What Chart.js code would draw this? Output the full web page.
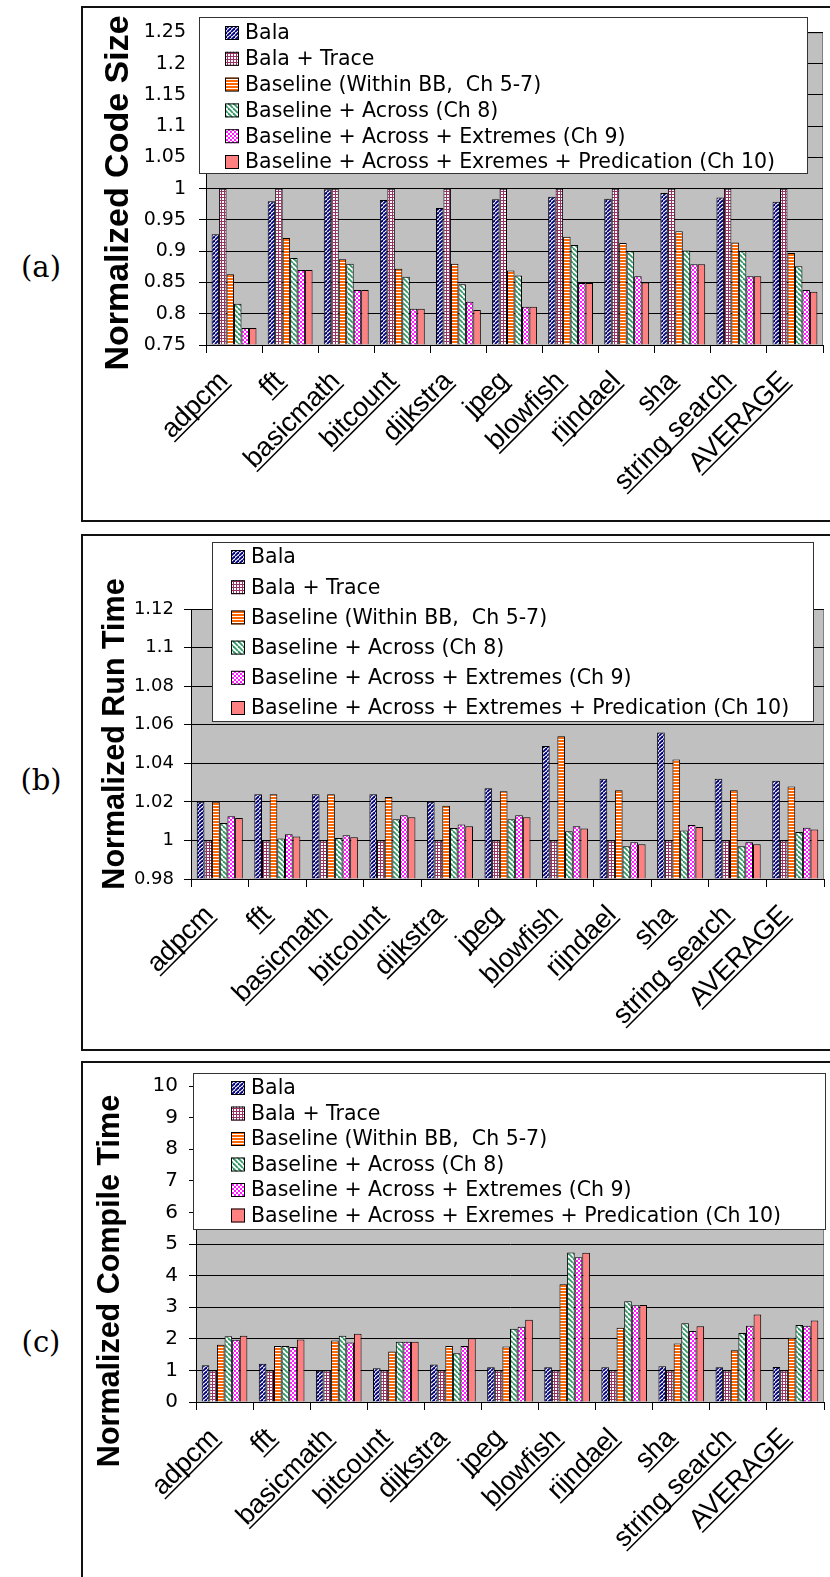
<!DOCTYPE html>
<html>
<head>
<meta charset="utf-8">
<script src="https://cdn.jsdelivr.net/npm/chart.js@4.4.1/dist/chart.umd.min.js"></script>
<style>
  html, body { margin: 0; padding: 0; background: #fff; }
  body { width: 830px; height: 1577px; position: relative; overflow: hidden; }
  .frame { position: absolute; left: 81px; width: 800px; border: 2px solid #111; box-sizing: border-box; }
  .tag { position: absolute; left: 14px; width: 54px; text-align: center; font: 29px "DejaVu Serif", serif; line-height: 34px; }
  canvas { position: absolute; left: 83px; }
</style>
</head>
<body>
<div class="frame" style="top:6px;height:516px"></div>
<div class="frame" style="top:534px;height:517px"></div>
<div class="frame" style="top:1061px;height:600px"></div>
<div class="tag" style="top:250px">(a)</div>
<div class="tag" style="top:763px">(b)</div>
<div class="tag" style="top:1325px">(c)</div>
<canvas id="chartA" width="747" height="512" style="top:8px"></canvas>
<canvas id="chartB" width="747" height="513" style="top:536px"></canvas>
<canvas id="chartC" width="747" height="514" style="top:1063px"></canvas>
<script>
/* ---------------- Data ---------------- */
const categories = ["adpcm", "fft", "basicmath", "bitcount", "dijkstra", "jpeg",
    "blowfish", "rijndael", "sha", "string search", "AVERAGE"];

const namesCode = ["Bala", "Bala + Trace", "Baseline (Within BB,  Ch 5-7)",
    "Baseline + Across (Ch 8)", "Baseline + Across + Extremes (Ch 9)",
    "Baseline + Across + Exremes + Predication (Ch 10)"];
const namesRun = ["Bala", "Bala + Trace", "Baseline (Within BB,  Ch 5-7)",
    "Baseline + Across (Ch 8)", "Baseline + Across + Extremes (Ch 9)",
    "Baseline + Across + Extremes + Predication (Ch 10)"];
const namesCompile = namesCode;

// (a) normalized code size
const codeBala      = [0.927, 0.980, 0.999, 0.982, 0.969, 0.983, 0.987, 0.984, 0.993, 0.986, 0.979];
const codeTrace     = [1, 1, 1, 1, 1, 1, 1, 1, 1, 1, 1];
const codeBaseline  = [0.863, 0.921, 0.887, 0.872, 0.880, 0.869, 0.923, 0.913, 0.932, 0.914, 0.897];
const codeAcross    = [0.816, 0.889, 0.880, 0.859, 0.847, 0.861, 0.910, 0.900, 0.901, 0.900, 0.876];
const codeExtremes  = [0.777, 0.870, 0.838, 0.808, 0.819, 0.811, 0.849, 0.860, 0.879, 0.860, 0.838];
const codePred      = [0.777, 0.870, 0.838, 0.808, 0.806, 0.811, 0.849, 0.850, 0.879, 0.860, 0.835];
const codeTicks = ["0.75", "0.8", "0.85", "0.9", "0.95", "1", "1.05", "1.1", "1.15", "1.2", "1.25"];

// (b) normalized run time
const runBala      = [1.020, 1.024, 1.024, 1.024, 1.020, 1.027, 1.049, 1.032, 1.056, 1.032, 1.031];
const runTrace     = [1, 1, 1, 1, 1, 1, 1, 1, 1, 1, 1];
const runBaseline  = [1.020, 1.024, 1.024, 1.0225, 1.018, 1.0255, 1.054, 1.026, 1.042, 1.026, 1.028];
const runAcross    = [1.009, 1.001, 1.0012, 1.011, 1.0065, 1.011, 1.0048, 0.997, 1.0052, 0.997, 1.0044];
const runExtremes  = [1.0125, 1.0032, 1.0027, 1.013, 1.0083, 1.013, 1.0073, 0.999, 1.008, 0.999, 1.0066];
const runPred      = [1.0116, 1.0021, 1.0017, 1.012, 1.0074, 1.012, 1.0062, 0.998, 1.007, 0.998, 1.0057];
const runTicks = ["0.98", "1", "1.02", "1.04", "1.06", "1.08", "1.1", "1.12"];

// (c) normalized compile time
const compBala      = [1.16, 1.21, 0.99, 1.07, 1.19, 1.10, 1.10, 1.10, 1.13, 1.10, 1.11];
const compTrace     = [1, 1, 1, 1, 1, 1, 1, 1, 1, 1, 1];
const compBaseline  = [1.81, 1.77, 1.95, 1.60, 1.77, 1.76, 3.73, 2.35, 1.85, 1.64, 2.03];
const compAcross    = [2.08, 1.77, 2.10, 1.91, 1.54, 2.32, 4.73, 3.19, 2.49, 2.18, 2.44];
const compExtremes  = [1.97, 1.74, 1.88, 1.91, 1.77, 2.38, 4.58, 3.06, 2.25, 2.41, 2.41];
const compPred      = [2.10, 1.98, 2.16, 1.91, 2.02, 2.60, 4.72, 3.07, 2.40, 2.77, 2.58];
const compTicks = ["0", "1", "2", "3", "4", "5", "6", "7", "8", "9", "10"];

/* ---------------- Fill patterns (Excel style) ---------------- */
function tile(w, h, paint) {
    const c = document.createElement("canvas");
    c.width = w; c.height = h;
    const g = c.getContext("2d");
    g.fillStyle = "#fff";
    g.fillRect(0, 0, w, h);
    paint(g, w, h);
    return g.createPattern(c, "repeat");
}

function diag(g, s, color, lw, dir) {
    g.strokeStyle = color;
    g.lineWidth = lw;
    for (let k = -1; k <= 1; k++) {
        g.beginPath();
        if (dir > 0) { g.moveTo(k * s, s); g.lineTo(k * s + s, 0); }
        else { g.moveTo(k * s, 0); g.lineTo(k * s + s, s); }
        g.stroke();
    }
}

const fills = [
    tile(4, 4, g => diag(g, 4, "#000080", 1.9, 1)),
    tile(3, 3, g => { g.fillStyle = "#993366"; g.fillRect(0, 0, 3, 1); g.fillRect(0, 0, 1, 3); }),
    tile(3, 3, g => { g.fillStyle = "#ff6600"; g.fillRect(0, 0, 3, 2); }),
    tile(5, 5, g => diag(g, 5, "#339966", 1.8, -1)),
    tile(4, 4, g => { diag(g, 4, "#ff00ff", 0.9, 1); diag(g, 4, "#ff00ff", 0.9, -1); }),
    "#ff8080"
];

/* ---------------- Plugins ---------------- */
const CANVAS_LEFT = 83;

const plotBackground = {
    id: "plotBackground",
    beforeDraw(chart) {
        const { ctx, chartArea: a } = chart;
        ctx.save();
        ctx.fillStyle = "#c0c0c0";
        ctx.fillRect(a.left, a.top, a.right - a.left, a.bottom - a.top);
        ctx.strokeStyle = "#808080";
        ctx.lineWidth = 1;
        ctx.strokeRect(a.left + 0.5, a.top + 0.5, a.right - a.left - 1, a.bottom - a.top);
        ctx.restore();
    }
};

const decorations = {
    id: "decorations",
    afterDraw(chart, args, o) {
        const { ctx, chartArea: a } = chart;
        const x = chart.scales.x;
        ctx.save();

        // rotated, underlined category labels
        ctx.font = "27px 'Liberation Sans', Arial, sans-serif";
        ctx.fillStyle = "#000";
        ctx.textAlign = "right";
        ctx.textBaseline = "alphabetic";
        chart.data.labels.forEach((lab, i) => {
            const px = x.getPixelForValue(i) - 5;
            const py = a.bottom + 37;
            const w = ctx.measureText(lab).width;
            ctx.save();
            ctx.translate(px, py);
            ctx.rotate(-Math.PI / 4);
            ctx.fillText(lab, 0, 0);
            ctx.fillRect(-w, 3, w, 1.5);
            ctx.restore();
        });

        // y axis title
        ctx.save();
        ctx.font = "bold " + o.titleSize + "px 'Liberation Sans', Arial, sans-serif";
        ctx.textAlign = "center";
        ctx.textBaseline = "middle";
        ctx.translate(o.titleX - CANVAS_LEFT, o.titleY - o.top);
        ctx.rotate(-Math.PI / 2);
        ctx.fillText(o.title, 0, 0);
        ctx.restore();

        // legend box
        const L = o.legend;
        const lx = L.left - CANVAS_LEFT, ly = L.top - o.top;
        ctx.fillStyle = "#fff";
        ctx.fillRect(lx, ly, L.right - L.left, L.bottom - L.top);
        ctx.strokeStyle = "#333";
        ctx.lineWidth = 1;
        ctx.strokeRect(lx + 0.5, ly + 0.5, L.right - L.left - 1, L.bottom - L.top - 1);

        ctx.font = "20.5px 'DejaVu Sans', sans-serif";
        ctx.textAlign = "left";
        ctx.textBaseline = "middle";
        chart.data.datasets.forEach((ds, i) => {
            const cy = L.first + i * L.step - o.top;
            const sx = L.swatch - CANVAS_LEFT;
            ctx.fillStyle = ds.backgroundColor;
            ctx.fillRect(sx, cy - 7, 14, 14);
            ctx.strokeStyle = "#000";
            ctx.strokeRect(sx + 0.5, cy - 6.5, 13, 13);
            ctx.fillStyle = "#000";
            ctx.fillText(ds.label, sx + 20, cy + 1);
        });
        ctx.restore();
    }
};

/* ---------------- Chart builder ---------------- */
function buildChart(id, p) {
    const xAxisH = 20;
    const canvasW = 747;
    return new Chart(document.getElementById(id), {
        type: "bar",
        data: {
            labels: categories,
            datasets: p.series.map((vals, i) => ({
                label: p.names[i],
                data: vals,
                backgroundColor: fills[i],
                borderColor: "#000",
                borderWidth: 1,
                base: p.min,
                barPercentage: 1,
                categoryPercentage: 0.8
            }))
        },
        options: {
            responsive: false,
            animation: false,
            devicePixelRatio: 1,
            layout: {
                padding: {
                    left: 0,
                    top: p.area.top - p.top,
                    right: CANVAS_LEFT + canvasW - p.area.right,
                    bottom: p.top + p.height - p.area.bottom - xAxisH
                }
            },
            plugins: {
                legend: { display: false },
                tooltip: { enabled: false },
                decorations: p
            },
            scales: {
                x: {
                    offset: true,
                    afterFit: s => { s.height = xAxisH; },
                    ticks: { display: false },
                    grid: {
                        offset: true,
                        drawOnChartArea: false,
                        drawTicks: true,
                        tickLength: 8,
                        color: "#000"
                    },
                    border: { color: "#000", width: 1 }
                },
                y: {
                    min: p.min,
                    max: p.max,
                    afterBuildTicks: s => { s.ticks = p.ticks.map(t => ({ value: parseFloat(t) })); },
                    afterFit: s => { s.width = p.area.left - CANVAS_LEFT; },
                    ticks: {
                        callback: (v, i) => p.ticks[i],
                        color: "#000",
                        padding: p.tickPad,
                        font: { family: "'DejaVu Sans', sans-serif", size: p.tickSize }
                    },
                    grid: { color: "#000", lineWidth: 1, tickLength: 7 },
                    border: { color: "#000", width: 1 }
                }
            }
        },
        plugins: [plotBackground, decorations]
    });
}

buildChart("chartA", {
    top: 8, height: 512,
    area: { left: 206, right: 823, top: 27, bottom: 345 },
    min: 0.75, max: 1.25, ticks: codeTicks, tickSize: 19, tickPad: 13,
    title: "Normalized Code Size", titleSize: 34, titleX: 119, titleY: 193,
    legend: { left: 199, right: 808, top: 17, bottom: 174, first: 33, step: 25.8, swatch: 225 },
    names: namesCode,
    series: [codeBala, codeTrace, codeBaseline, codeAcross, codeExtremes, codePred]
});

buildChart("chartB", {
    top: 536, height: 513,
    area: { left: 191, right: 824, top: 609, bottom: 879 },
    min: 0.98, max: 1.12, ticks: runTicks, tickSize: 18, tickPad: 10,
    title: "Normalized Run Time", titleSize: 30.5, titleX: 116, titleY: 734,
    legend: { left: 212, right: 814, top: 542, bottom: 722, first: 557, step: 30.2, swatch: 231 },
    names: namesRun,
    series: [runBala, runTrace, runBaseline, runAcross, runExtremes, runPred]
});

buildChart("chartC", {
    top: 1063, height: 514,
    area: { left: 196, right: 824, top: 1083, bottom: 1402 },
    min: 0, max: 10, ticks: compTicks, tickSize: 20, tickPad: 11,
    title: "Normalized Compile Time", titleSize: 30.5, titleX: 111, titleY: 1281,
    legend: { left: 193, right: 826, top: 1073, bottom: 1230, first: 1088, step: 25.5, swatch: 231 },
    names: namesCompile,
    series: [compBala, compTrace, compBaseline, compAcross, compExtremes, compPred]
});
</script>
</body>
</html>
